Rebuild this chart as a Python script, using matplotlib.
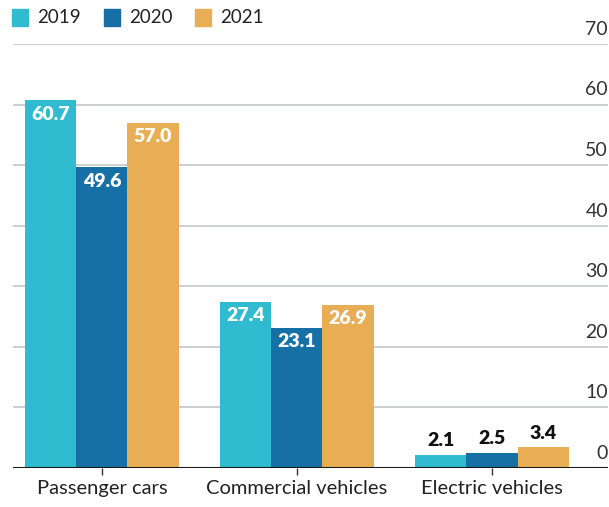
import numpy as np
import matplotlib.pyplot as plt
from matplotlib.patches import Rectangle
from matplotlib.transforms import blended_transform_factory

categories = ["Passenger cars", "Commercial vehicles", "Electric vehicles"]
years = ["2019", "2020", "2021"]
v2019 = [60.7, 27.4, 2.1]
v2020 = [49.6, 23.1, 2.5]
v2021 = [57.0, 26.9, 3.4]
yticks = [0, 10, 20, 30, 40, 50, 60, 70]

colors = ["#30BBD0", "#1670A6", "#E8AE55"]
font = ["Lato", "DejaVu Sans"]

W, H = 609, 507
fig = plt.figure(figsize=(W / 100, H / 100), dpi=100)
ax = fig.add_axes([13 / W, 39.3 / H, 595 / W, 423.7 / H])

x = np.arange(len(categories))
width = 0.262
series = [v2019, v2020, v2021]
for i, vals in enumerate(series):
    pos = x + (i - 1) * width
    bars = ax.bar(pos, vals, width, color=colors[i], zorder=3)
    for b, v in zip(bars, vals):
        cx = b.get_x() + b.get_width() / 2
        if v > 10:
            ax.annotate(f"{v:.1f}", (cx, v), xytext=(0, -4), textcoords="offset points",
                        ha="center", va="top", color="white", fontsize=14,
                        fontweight="heavy", family=font, zorder=4)
        else:
            ax.annotate(f"{v:.1f}", (cx, v), xytext=(0, 4), textcoords="offset points",
                        ha="center", va="bottom", color="#111111", fontsize=14,
                        fontweight="heavy", family=font, zorder=4)

ax.set_xlim(-0.456, 2.595)
ax.set_ylim(0, 70)

# horizontal grid with labels sitting on the right end
trans = blended_transform_factory(ax.transAxes, ax.transData)
for t in yticks[1:]:
    ax.axhline(t, color="#C9CDD0", lw=1.3, zorder=1)
for t in yticks:
    ax.text(1.0, t + 1.0, str(t), transform=trans, ha="right", va="bottom",
            fontsize=14, color="#333333", family=font)
ax.axhline(0, color="#1a1a1a", lw=1.5, zorder=5)

for s in ax.spines.values():
    s.set_visible(False)
ax.set_yticks([])
ax.set_xticks(x)
ax.set_xticklabels(categories, fontsize=14.5, color="#222222", family=font)
ax.tick_params(axis="x", length=5, width=1, color="#333333", pad=4)

# legend across the top
lx = [12, 104, 195]
for i, yr in enumerate(years):
    fig.patches.append(Rectangle(((lx[i]) / W, (H - 26) / H), 16 / W, 17 / H,
                                 transform=fig.transFigure, color=colors[i]))
    fig.text((lx[i] + 25) / W, (H - 17.5) / H, yr, ha="left", va="center",
             fontsize=13.5, color="#222222", family=font)

fig.savefig("out.png", dpi=100)
